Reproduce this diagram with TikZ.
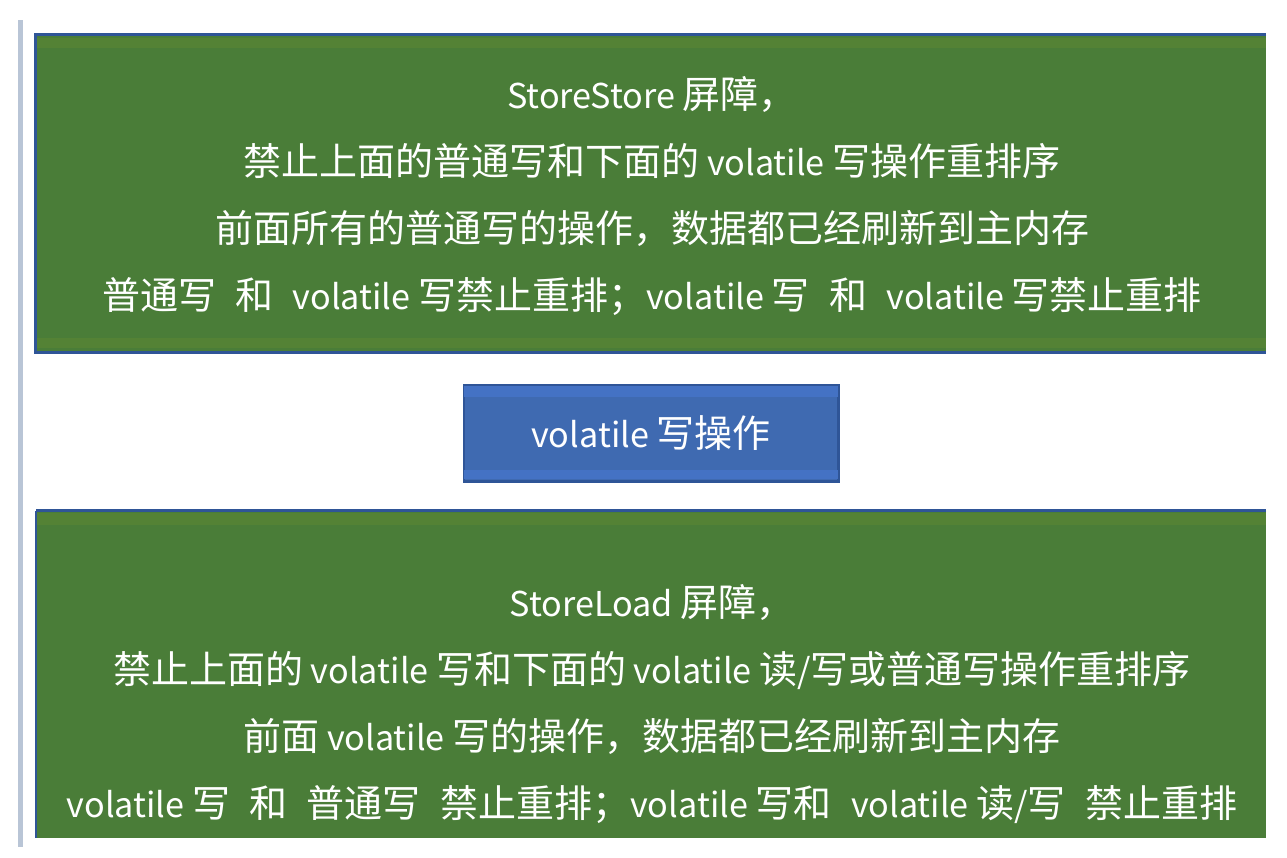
\documentclass[tikz,border=0pt]{standalone}
\usepackage{fontspec}
\setmainfont{Noto Sans CJK SC}
\newfontfamily\latf[Scale=0.9]{Noto Sans CJK SC}
\newcommand\lt[1]{{\latf #1}}
\newcommand\gp{\lt{\ \ }\hspace{4pt}}
\definecolor{gfill}{HTML}{4A7D38}
\definecolor{gband}{HTML}{548235}
\definecolor{bline}{HTML}{2F5597}
\definecolor{bfill}{HTML}{3F6AB1}
\definecolor{bband}{HTML}{4472C4}
\definecolor{barcol}{HTML}{B9C5D6}
\tikzset{
  gbox/.style={fill=gfill, inner sep=0pt, minimum width=1230pt},
  bbox/.style={fill=bfill, draw=bline, line width=1.5pt, inner sep=0pt, minimum width=374pt, minimum height=96pt},
  txt/.style={text=white, align=center, inner sep=0pt, font=\fontsize{38}{67}\selectfont},
  edge/.style={bline, line width=3pt}
}
\begin{document}
\begin{tikzpicture}[x=1pt,y=-1pt]
\useasboundingbox (0,0) rectangle (1287,858);
\fill[white] (0,0) rectangle (1287,858);
\fill[barcol] (18,20) rectangle (22.5,847);
% top green box
\node[gbox, minimum height=317pt] (topbox) at (651,193.5) {};
\fill[gband] ([yshift=-3pt]topbox.north west) rectangle ([yshift=-13pt]topbox.north east);
\fill[gband] ([yshift=4pt]topbox.south west) rectangle ([yshift=14pt]topbox.south east);
\draw[edge] (topbox.north east) -- (topbox.north west) -- (topbox.south west) -- (topbox.south east);
\node[txt] (toptext) at (652,196) {\lt{StoreStore }屏障，\\禁止上面的普通写和下面的\lt{ volatile }写操作重排序\\前面所有的普通写的操作，数据都已经刷新到主内存\\普通写\gp 和\gp\lt{volatile }写禁止重排；\lt{volatile }写\gp 和\gp\lt{volatile }写禁止重排};
% blue box
\node[bbox] (mid) at (651,433) {};
\fill[bband] ([yshift=-2pt,xshift=1pt]mid.north west) rectangle ([yshift=-13pt,xshift=-1pt]mid.north east);
\fill[bband] ([yshift=3pt,xshift=1pt]mid.south west) rectangle ([yshift=12pt,xshift=-1pt]mid.south east);
\draw[bline, line width=1.5pt] (mid.north west) rectangle (mid.south east);
\node[txt] (midtext) at (651,433) {\lt{volatile }写操作};
% bottom green box
\node[gbox, minimum height=327pt] (botbox) at (651,674.5) {};
\fill[gband] ([yshift=-2pt]botbox.north west) rectangle ([yshift=-14pt]botbox.north east);
\draw[edge] (botbox.north east) -- (botbox.north west);
\draw[bline, line width=1.5pt] (botbox.north west) -- (botbox.south west);
\node[txt] (bottext) at (652,704) {\lt{StoreLoad }屏障，\\禁止上面的\lt{ volatile }写和下面的\lt{ volatile }读\lt{/}写或普通写操作重排序\\前面\lt{ volatile }写的操作，数据都已经刷新到主内存\\\lt{volatile }写\gp 和\gp 普通写\gp 禁止重排；\lt{volatile }写和\gp\lt{volatile }读\lt{/}写\gp 禁止重排};
\end{tikzpicture}
\end{document}
